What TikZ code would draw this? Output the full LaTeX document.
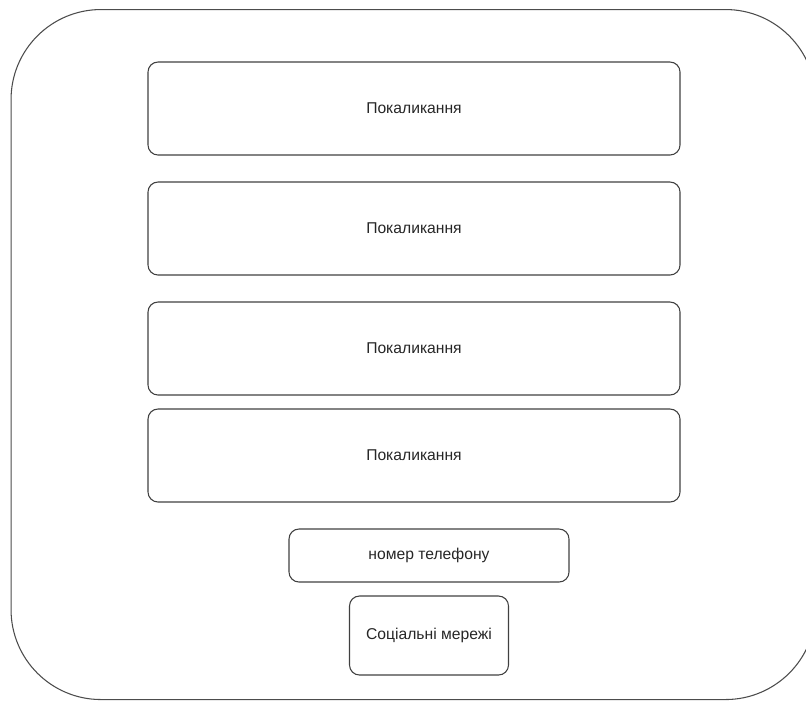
\documentclass[tikz,border=0pt]{standalone}
\usepackage{fontspec}
\setmainfont{Liberation Sans}
\usetikzlibrary{positioning}

\begin{document}
\begin{tikzpicture}[
    x=0.75pt, y=-0.75pt,
    node distance=20.25pt,
    panel/.style={
        rectangle,
        draw=black!75,
        line width=0.8pt,
        minimum width=399pt,
        minimum height=69.75pt,
        align=center,
        rounded corners=7.5pt,
        inner sep=0pt,
        outer sep=0pt
    },
    smallbox/.style={
        panel,
        minimum width=210pt,
        minimum height=39.75pt
    },
    every node/.style={
        font=\fontsize{11.75}{14}\selectfont,
        text=black!85
    }
]

% Page frame
\useasboundingbox (0,0) rectangle (806,701);

% Outer frame
\node[draw=black!70, line width=0.8pt, rounded corners=67.5pt,
      minimum width=603.4pt, minimum height=517.5pt, inner sep=0pt,
      anchor=north west] (frame) at (10.5,9) {};

% Rows
\node[panel, anchor=north west] (row1) at (148,62) {Покаликання};
\node[panel, below=of row1] (row2) {Покаликання};
\node[panel, below=of row2] (row3) {Покаликання};
\node[panel, below=10.5pt of row3] (row4) {Покаликання};

% Contacts
\node[smallbox, below=of row4, xshift=11.25pt] (phone) {номер телефону};
\node[smallbox, minimum width=119.25pt, minimum height=59.25pt,
      below=10.5pt of phone] (social) {Соціальні мережі};

\end{tikzpicture}
\end{document}
